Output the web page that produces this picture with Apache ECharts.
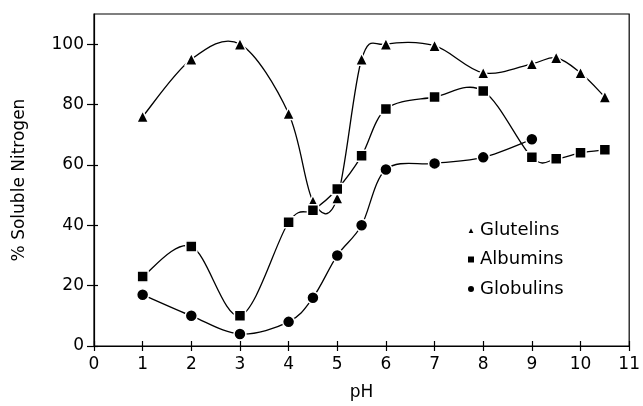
<!DOCTYPE html>
<html>
<head>
<meta charset="utf-8">
<script src="https://cdn.jsdelivr.net/npm/echarts@6/dist/echarts.min.js"></script>
<style>
html,body{margin:0;padding:0;background:#fff;}
#c{width:643px;height:406px;}
</style>
</head>
<body>
<div id="c"></div>
<script>
const pH = [1, 2, 3, 4, 4.5, 5, 5.5, 6, 7, 8, 9, 9.5, 10, 10.5];
const glutelins = [76, 95, 100, 77, 48, 49, 95, 100, 99.5, 90.5, 93.5, 95.5, 90.5, 82.5];
const albumins = [23, 33, 10, 41, 45, 52, 63, 78.5, 82.5, 84.5, 62.5, 62, 64, 65];
const globulinsPH = [1, 2, 3, 4, 4.5, 5, 5.5, 6, 7, 8, 9];
const globulins = [17, 10, 4, 8, 16, 30, 40, 58.5, 60.5, 62.5, 68.5];
const xTicks = [0,1,2,3,4,5,6,7,8,9,10,11];
const yTicks = [0,20,40,60,80,100];

const FONT = 'DejaVu Sans';
const pair = (xs, ys) => xs.map((x, i) => [x, ys[i]]);

const chart = echarts.init(document.getElementById('c'), null, {renderer: 'canvas'});

// Smooth curve through the data points (Catmull-Rom in pixel space, via the axis scales)
function curveSeries(xs, ys) {
  const n = xs.length;
  return {
    type: 'custom', silent: true, z: 2, clip: false,
    data: pair(xs, ys),
    encode: {x: 0, y: 1},
    renderItem: (params, api) => {
      const i = params.dataIndex;
      if (i >= n - 1) return null;
      const P = k => { const j = Math.max(0, Math.min(n - 1, k)); return api.coord([xs[j], ys[j]]); };
      const p0 = P(i - 1), p1 = P(i), p2 = P(i + 1), p3 = P(i + 2);
      const t = 1 / 6;
      return {
        type: 'bezierCurve',
        shape: {
          x1: p1[0], y1: p1[1], x2: p2[0], y2: p2[1],
          cpx1: p1[0] + (p2[0] - p0[0]) * t, cpy1: p1[1] + (p2[1] - p0[1]) * t,
          cpx2: p2[0] - (p3[0] - p1[0]) * t, cpy2: p2[1] - (p3[1] - p1[1]) * t
        },
        style: {stroke: '#000', lineWidth: 1.3, fill: null}
      };
    }
  };
}
const markSeries = (name, data, symbol, size) => ({
  name, type: 'line', data, symbol, symbolSize: size,
  lineStyle: {opacity: 0, width: 0},
  itemStyle: {color: '#000', borderColor: '#fff', borderWidth: 1.5},
  emphasis: {disabled: true},
  z: 3
});
const tickStyle = {color: '#000', width: 1.2};
chart.setOption({
  animation: false,
  backgroundColor: '#fff',
  textStyle: {fontFamily: FONT},
  grid: {left: 94, right: 11, top: 14, bottom: 57, show: true, borderColor: '#000', borderWidth: 1.2},
  legend: {
    orient: 'vertical', left: 461, top: 216, itemGap: 11.5,
    itemWidth: 8, itemHeight: 8,
    textStyle: {fontFamily: FONT, fontSize: 18, color: '#000'},
    data: [
      {name: 'Glutelins', icon: 'triangle'},
      {name: 'Albumins', icon: 'rect'},
      {name: 'Globulins', icon: 'circle'}
    ]
  },
  xAxis: [
    {
      type: 'value', min: 0, max: 11, interval: 1, splitLine: {show: false},
      name: 'pH', nameLocation: 'middle', nameGap: 38,
      nameTextStyle: {fontFamily: FONT, fontSize: 17, color: '#000'},
      axisLine: {show: true, onZero: false, lineStyle: tickStyle},
      axisTick: {show: true, inside: false, length: 5, lineStyle: tickStyle, customValues: xTicks},
      axisLabel: {color: '#000', fontFamily: FONT, fontSize: 17, margin: 10, customValues: xTicks}
    },
    {
      type: 'value', min: 0, max: 11, interval: 1, splitLine: {show: false},
      position: 'bottom',
      axisLine: {show: false},
      axisTick: {show: true, inside: true, length: 5, lineStyle: tickStyle, customValues: xTicks},
      axisLabel: {show: false}
    }
  ],
  yAxis: [
    {
      type: 'value', min: 0, max: 110, interval: 20, splitLine: {show: false},
      name: '% Soluble Nitrogen', nameLocation: 'middle', nameGap: 66, nameRotate: 90,
      nameTextStyle: {fontFamily: FONT, fontSize: 17, color: '#000'},
      axisLine: {show: true, onZero: false, lineStyle: tickStyle},
      axisTick: {show: true, inside: false, length: 7, lineStyle: tickStyle, customValues: yTicks},
      axisLabel: {color: '#000', fontFamily: FONT, fontSize: 17, margin: 10, customValues: yTicks}
    },
    {
      type: 'value', min: 0, max: 110, interval: 20, splitLine: {show: false},
      position: 'left',
      axisLine: {show: false},
      axisTick: {show: true, inside: true, length: 4, lineStyle: tickStyle, customValues: yTicks},
      axisLabel: {show: false}
    }
  ],
  series: [
    curveSeries(pH, glutelins),
    curveSeries(pH, albumins),
    curveSeries(globulinsPH, globulins),
    markSeries('Glutelins', pair(pH, glutelins), 'triangle', 12),
    markSeries('Albumins', pair(pH, albumins), 'rect', 11),
    markSeries('Globulins', pair(globulinsPH, globulins), 'circle', 12)
  ]
});
</script>
</body>
</html>
